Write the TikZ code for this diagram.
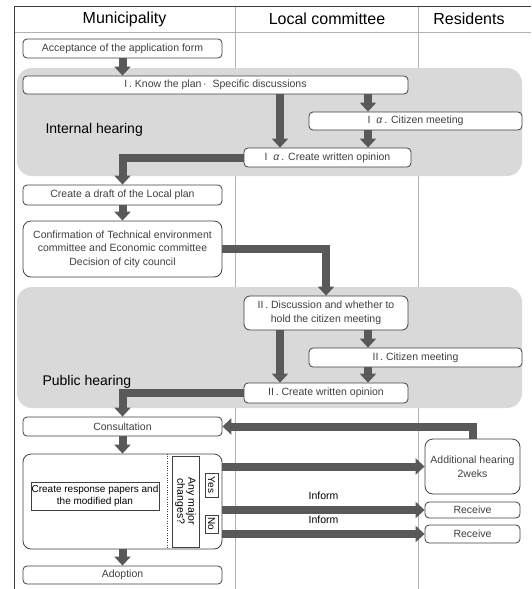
\documentclass[tikz,border=0pt]{standalone}
\usepackage{fontspec}
\setmainfont{Liberation Sans}
\usepackage{xcolor}
\usetikzlibrary{arrows.meta,calc,positioning}
\definecolor{flowgray}{RGB}{89,89,89}
\definecolor{hearinggray}{RGB}{217,217,217}
\definecolor{lanegray}{RGB}{178,178,178}
\definecolor{boxline}{RGB}{64,64,64}

\begin{document}
\begin{tikzpicture}[x=1pt,y=-1pt,
  procbox/.style={draw=boxline,line width=0.8pt,fill=white,rounded corners=4pt,inner sep=1pt,
    align=center,text=boxline,font=\fontsize{10.5}{13.5}\selectfont},
  fatarrow/.style={draw=flowgray,line width=8pt,line join=miter,-{Triangle[width=16pt,length=9pt]}},
  hearing/.style={fill=hearinggray,rounded corners=15pt},
  lanehead/.style={font=\fontsize{16}{18}\selectfont},
  arealabel/.style={font=\fontsize{14}{16}\selectfont,anchor=west}]
  \useasboundingbox (0,0) rectangle (531,589);
  \draw[lanegray,line width=0.8pt] (14,32)--(531,32);
  \draw[lanegray,line width=0.8pt] (235,6)--(235,589);
  \draw[lanegray,line width=0.8pt] (418,6)--(418,589);
  \draw[boxline,line width=0.8pt] (531,6)--(14,6)--(14,589);
  \node[lanehead] (hmun) at (124.5,19) {Municipality};
  \node[lanehead] (hloc) at (327,19) {Local committee};
  \node[lanehead] (hres) at (469,19) {Residents};

  \fill[hearing] (17,68) rectangle (522,176);
  \fill[hearing] (17,287) rectangle (522,408);
  \node[arealabel] (intlabel) at (42,130) {Internal hearing};
  \node[arealabel] (publabel) at (39,382) {Public hearing};

  \node[procbox,minimum width=199pt,minimum height=19pt] (acc) at (122.5,48.5) {Acceptance of the application form};
  \node[procbox,minimum width=385pt,minimum height=18pt] (know) at (215.5,85) {I\,. Know the plan\,·\ \ Specific discussions};
  \node[procbox,minimum width=213pt,minimum height=18pt] (cm1) at (415.5,121) {I\ \ \textit{α}\,. Citizen meeting};
  \node[procbox,minimum width=167pt,minimum height=19pt] (op1) at (327.5,157.5) {I\ \ \textit{α}\,. Create written opinion};
  \node[procbox,minimum width=199pt,minimum height=20pt] (draft) at (122.5,195) {Create a draft of the Local plan};
  \node[procbox,minimum width=199pt,minimum height=56pt,rounded corners=8pt] (conf) at (122.5,249)
    {Confirmation of Technical environment\\committee and Economic committee\\Decision of city council};
  \node[procbox,minimum width=164pt,minimum height=34pt,rounded corners=6pt] (disc) at (326,313)
    {II\,. Discussion and whether to\\hold the citizen meeting};
  \node[procbox,minimum width=213pt,minimum height=19pt] (cm2) at (415.5,357.5) {II\,. Citizen meeting};
  \node[procbox,minimum width=164pt,minimum height=20pt] (op2) at (326,393) {II\,. Create written opinion};
  \node[procbox,minimum width=199pt,minimum height=19pt] (cons) at (122.5,426.5) {Consultation};
  \node[procbox,minimum width=199pt,minimum height=95pt,rounded corners=8pt] (resp) at (122.5,501.5) {};
  \node[procbox,minimum width=199pt,minimum height=18pt] (adopt) at (122.5,575) {Adoption};
  \node[procbox,minimum width=95pt,minimum height=55pt,rounded corners=8pt] (addh) at (472.5,466.5)
    {Additional hearing\\2weks};
  \node[procbox,minimum width=95pt,minimum height=16pt] (rec1) at (472.5,510) {Receive};
  \node[procbox,minimum width=95pt,minimum height=18pt] (rec2) at (472.5,534) {Receive};

  \draw[boxline,dotted] (resp.north -| 167,0) -- (resp.south -| 167,0);
  \node[draw=boxline,line width=0.6pt,rotate=-90,minimum width=91pt,minimum height=27pt,inner sep=0pt,
    align=center,font=\fontsize{10.5}{11}\selectfont] (chg) at (185.5,501.5) {Any major\\changes?};
  \node[draw=boxline,line width=0.6pt,rotate=-90,minimum width=24pt,minimum height=13pt,inner sep=0pt,
    font=\fontsize{10}{11}\selectfont] (yes) at (211.5,485) {Yes};
  \node[draw=boxline,line width=0.6pt,rotate=-90,minimum width=18pt,minimum height=13pt,inner sep=0pt,
    font=\fontsize{10}{11}\selectfont] (no) at (211.5,524) {No};
  \node[draw=boxline,line width=0.6pt,minimum width=128pt,minimum height=28pt,inner sep=0pt,
    align=center,font=\fontsize{10}{12}\selectfont] (resptxt) at (95,496)
    {Create response papers and\\the modified plan};

  \coordinate (lane1) at (280,0);
  \coordinate (lane2) at (368,0);
  \draw[fatarrow] (acc.south) -- (acc.south |- know.north);
  \draw[fatarrow] (know.south -| lane1) -- (op1.north -| lane1);
  \draw[fatarrow] (know.south -| lane2) -- (cm1.north -| lane2);
  \draw[fatarrow] (cm1.south -| lane2) -- (op1.north -| lane2);
  \draw[fatarrow] (op1.west) -| (draft.north);
  \draw[fatarrow] (draft.south) -- (conf.north);
  \draw[fatarrow] (conf.east) -| (disc.north);
  \draw[fatarrow] (disc.south -| lane1) -- (op2.north -| lane1);
  \draw[fatarrow] (disc.south -| lane2) -- (cm2.north -| lane2);
  \draw[fatarrow] (cm2.south -| lane2) -- (op2.north -| lane2);
  \draw[fatarrow] (op2.west) -| (cons.north);
  \draw[fatarrow] (cons.south) -- (resp.north);
  \draw[fatarrow] (resp.south) -- (adopt.north);
  \draw[fatarrow] (addh.north) |- (cons.east);
  \draw[fatarrow] (resp.east |- addh.west) -- (addh.west);
  \draw[fatarrow] (resp.east |- rec1.west) -- node[above=3pt,font=\fontsize{10.5}{12}\selectfont] (inf1) {Inform} (rec1.west);
  \draw[fatarrow] (resp.east |- rec2.west) -- node[above=3pt,font=\fontsize{10.5}{12}\selectfont] (inf2) {Inform} (rec2.west);
\end{tikzpicture}
\end{document}
